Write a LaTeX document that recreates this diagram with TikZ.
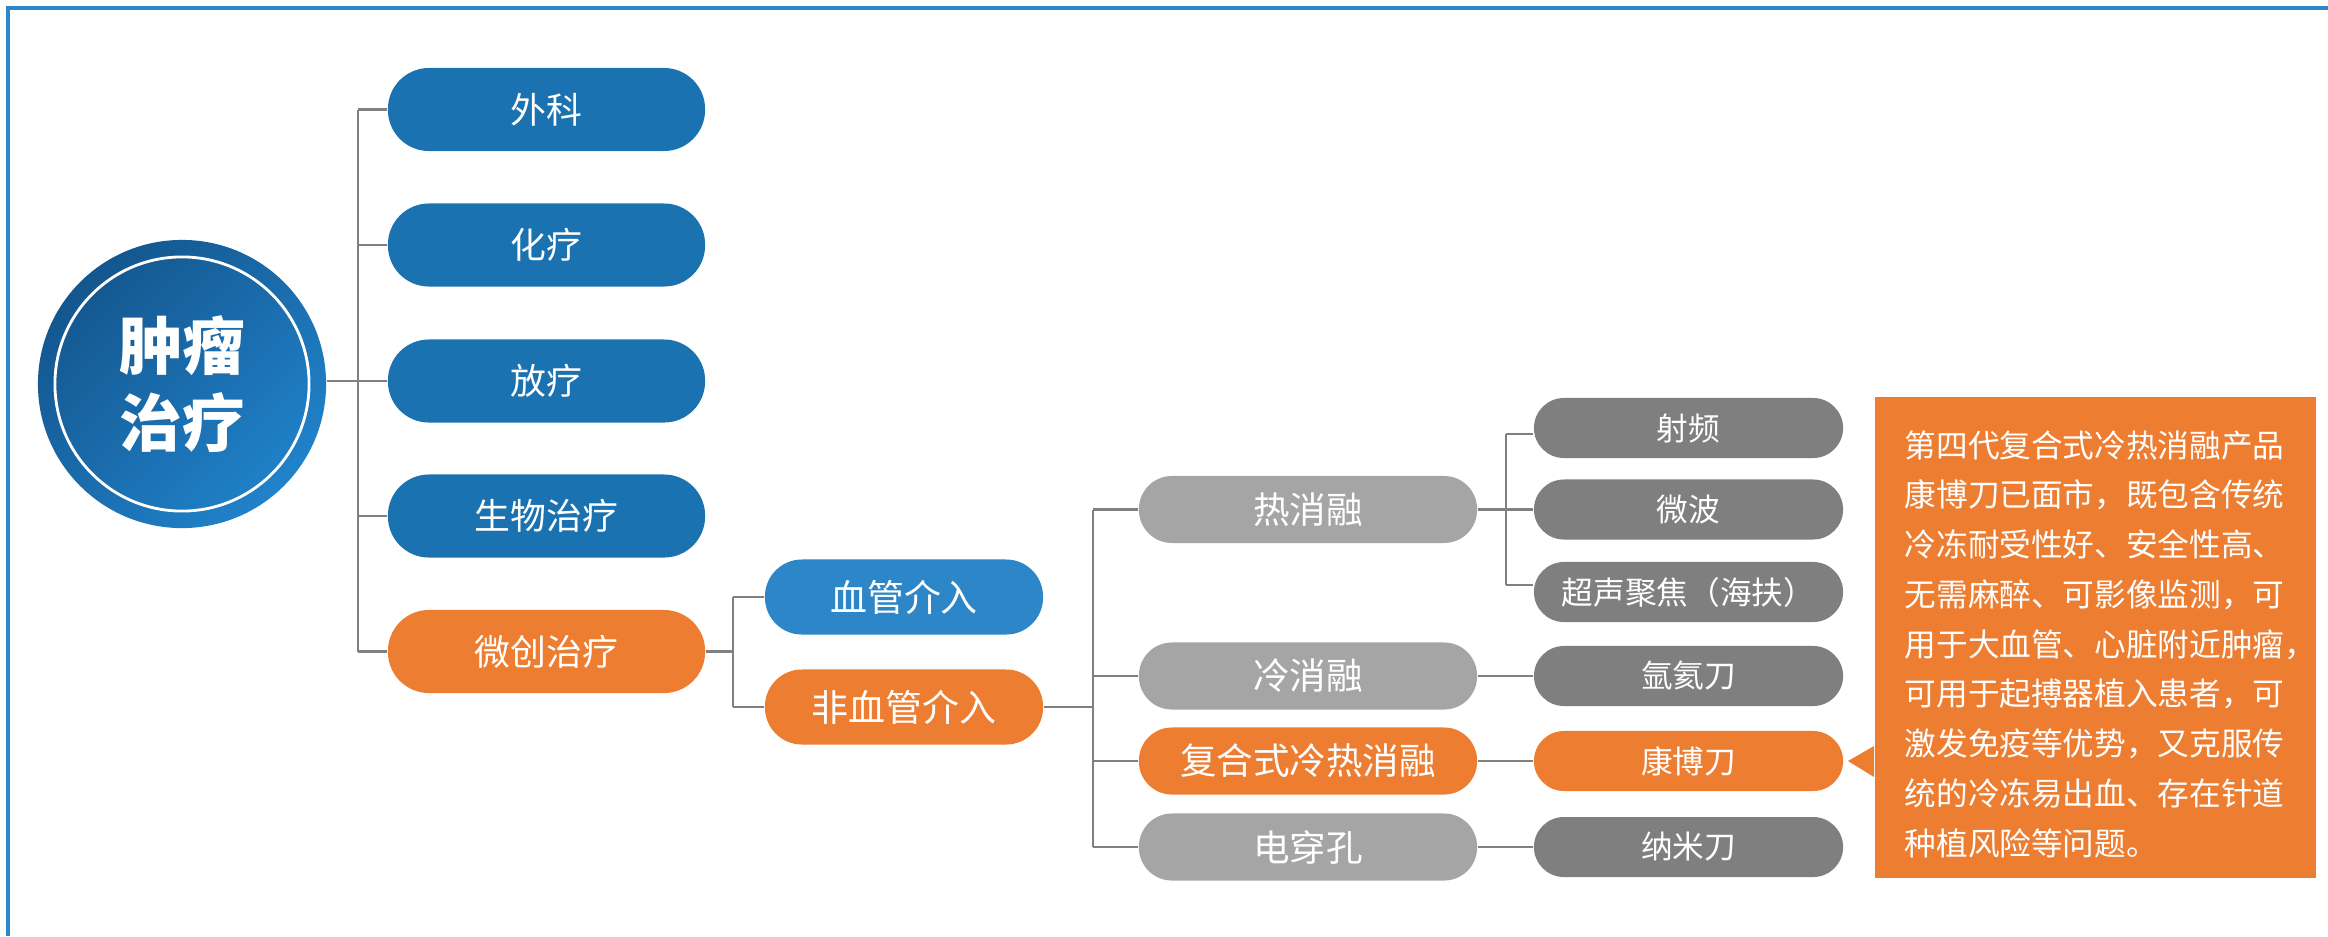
\documentclass[tikz,border=0pt]{standalone}
\usepackage{fontspec}
\setmainfont{Noto Sans CJK SC}
\definecolor{cBlue}{RGB}{27,114,176}
\definecolor{cBlueL}{RGB}{44,134,199}
\definecolor{cOrange}{RGB}{237,125,49}
\definecolor{cGreyL}{RGB}{165,165,165}
\definecolor{cGreyD}{RGB}{127,127,127}
\definecolor{cLine}{RGB}{128,128,128}
\definecolor{cFrame}{RGB}{46,134,200}
\definecolor{cDark}{RGB}{20,86,142}
\definecolor{cLight}{RGB}{32,130,202}
\begin{document}
\begin{tikzpicture}[x=0.01cm,y=-0.01cm,
  pill/.style={inner sep=0pt, text=white},
  lvA/.style={pill, minimum width=3.17cm, minimum height=0.83cm, rounded corners=0.41cm, font=\fontsize{10.2pt}{12pt}\selectfont},
  lvB/.style={pill, minimum width=2.78cm, minimum height=0.75cm, rounded corners=0.37cm, font=\fontsize{10.5pt}{12pt}\selectfont},
  lvC/.style={pill, minimum width=3.38cm, minimum height=0.67cm, rounded corners=0.33cm, font=\fontsize{10.4pt}{12pt}\selectfont},
  lvD/.style={pill, minimum width=3.09cm, minimum height=0.60cm, rounded corners=0.30cm, font=\fontsize{9pt}{11pt}\selectfont},
  conn/.style={draw=cLine, line width=0.6pt},
  notetext/.style={anchor=base west, inner sep=0pt, text=white, font=\fontsize{9pt}{12pt}\selectfont},
]
\useasboundingbox (0,0) rectangle (2328,936);
\fill[white] (0,0) rectangle (2328,936);
% frame
\draw[cFrame, line width=0.9pt] (8,936) -- (8,8) -- (2328,8);

% root
\node[circle, minimum size=2.88cm, inner sep=0pt, shading=axis, top color=cDark, bottom color=cLight, shading angle=45] (root) at (182,384) {};
\node[circle, draw=white, line width=0.8pt, minimum size=2.54cm, inner sep=0pt] (ring) at (root) {};
\node[text=white, align=center, inner sep=0pt, font=\bfseries\fontsize{17.8pt}{21.9pt}\selectfont] (roottext) at (root) {肿瘤\\治疗};

% level 1
\node[lvA, fill=cBlue] (s1) at (546.5,109.5) {外科};
\node[lvA, fill=cBlue] (s2) at (546.5,245) {化疗};
\node[lvA, fill=cBlue] (s3) at (546.5,381) {放疗};
\node[lvA, fill=cBlue] (s4) at (546.5,516) {生物治疗};
\node[lvA, fill=cOrange] (s5) at (546.5,651.5) {微创治疗};

% level 2
\node[lvB, fill=cBlueL] (v1) at (904,597) {血管介入};
\node[lvB, fill=cOrange] (v2) at (904,707) {非血管介入};

% level 3
\node[lvC, fill=cGreyL] (a1) at (1308,509.5) {热消融};
\node[lvC, fill=cGreyL] (a2) at (1308,676) {冷消融};
\node[lvC, fill=cOrange] (a3) at (1308,761) {复合式冷热消融};
\node[lvC, fill=cGreyL] (a4) at (1308,847) {电穿孔};

% level 4
\node[lvD, fill=cGreyD] (b1) at (1688.5,428) {射频};
\node[lvD, fill=cGreyD] (b2) at (1688.5,509.5) {微波};
\node[lvD, fill=cGreyD] (b3) at (1688.5,592) {超声聚焦（海扶）};
\node[lvD, fill=cGreyD] (b4) at (1688.5,676) {氩氦刀};
\node[lvD, fill=cOrange] (b5) at (1688.5,761) {康博刀};
\node[lvD, fill=cGreyD] (b6) at (1688.5,847) {纳米刀};

% junctions
\coordinate (j1) at (358,0);
\coordinate (j2) at (733,0);
\coordinate (j3) at (1093,0);
\coordinate (j4) at (1506,0);

% connectors level 0 -> 1
\draw[conn] (root.east |- s3.west) -- (j1 |- s3.west);
\draw[conn] (j1 |- s1.west) -- (j1 |- s5.west);
\foreach \n in {s1,s2,s3,s4,s5} \draw[conn] (j1 |- \n.west) -- (\n.west);

% 1 -> 2
\draw[conn] (s5.east) -- (j2 |- s5.east);
\draw[conn] (j2 |- v1.west) -- (j2 |- v2.west);
\foreach \n in {v1,v2} \draw[conn] (j2 |- \n.west) -- (\n.west);

% 2 -> 3
\draw[conn] (v2.east) -- (j3 |- v2.east);
\draw[conn] (j3 |- a1.west) -- (j3 |- a4.west);
\foreach \n in {a1,a2,a3,a4} \draw[conn] (j3 |- \n.west) -- (\n.west);

% 3 -> 4
\draw[conn] (a1.east) -- (j4 |- a1.east);
\path (j4 |- b1.west) ++(0,6) coordinate (k1);
\path (j4 |- b3.west) ++(0,-7) coordinate (k3);
\draw[conn] (k1) -- (k3);
\draw[conn] (k1) -- (b1.west |- k1);
\draw[conn] (j4 |- b2.west) -- (b2.west);
\draw[conn] (k3) -- (b3.west |- k3);
\draw[conn] (a2.east) -- (b4.west);
\draw[conn] (a3.east) -- (b5.west);
\draw[conn] (a4.east) -- (b6.west);

% callout
\node[fill=cOrange, minimum width=4.41cm, minimum height=4.81cm, inner sep=0pt, anchor=north west] (note) at (1874,396) {};
\coordinate (tip) at (1848,761);
\fill[cOrange] (tip) -- (note.west |- 0,746) -- (note.west |- 0,777) -- cycle;

\foreach \i/\txt in {1/第四代复合式冷热消融产品,2/康博刀已面市，既包含传统,3/冷冻耐受性好、安全性高、,4/无需麻醉、可影像监测，可,5/用于大血管、心脏附近肿瘤，,6/可用于起搏器植入患者，可,7/激发免疫等优势，又克服传,8/统的冷冻易出血、存在针道,9/种植风险等问题。}
  \node[notetext] (line\i) at (1904,{457+49.75*(\i-1)}) {\txt};
\end{tikzpicture}
\end{document}
